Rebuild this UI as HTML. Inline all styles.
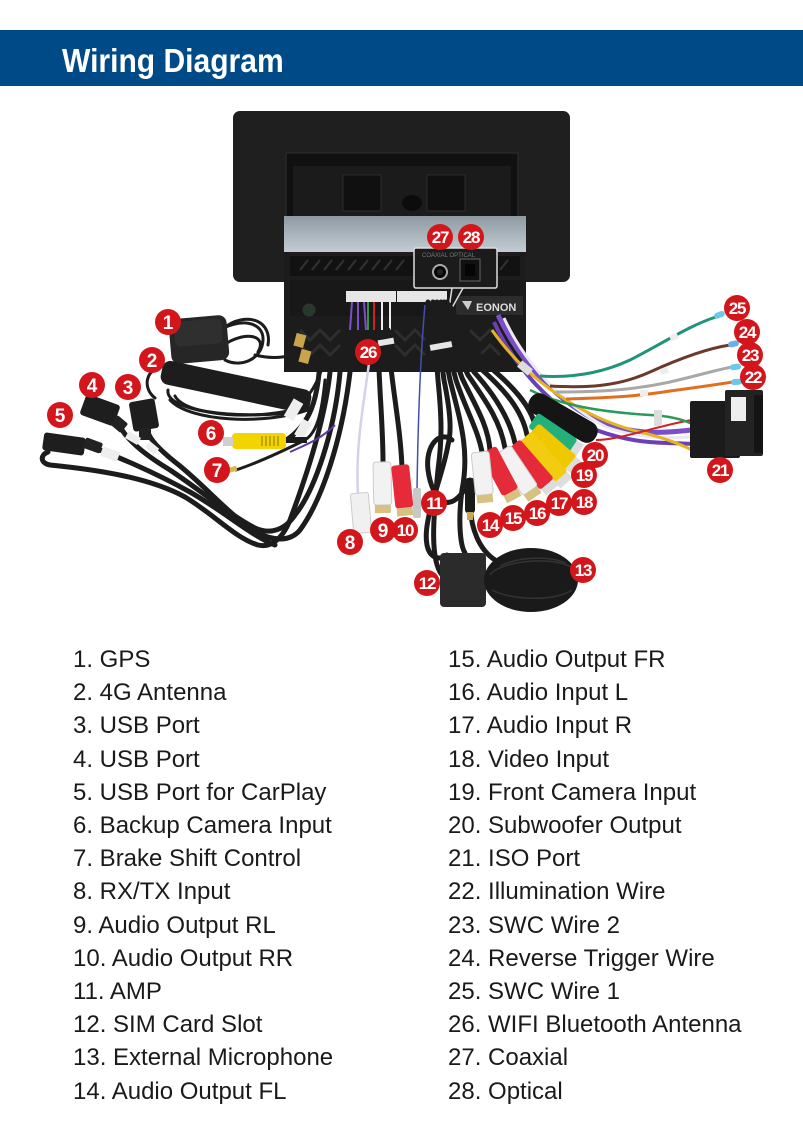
<!DOCTYPE html>
<html><head><meta charset="utf-8">
<style>
html,body{margin:0;padding:0;background:#fff;}
#page{position:relative;width:803px;height:1139px;overflow:hidden;background:#fff;font-family:"Liberation Sans",sans-serif;}
#hdr{position:absolute;left:0;top:30px;width:803px;height:56px;background:#004b87;}
#title{position:absolute;left:62px;top:41px;font-size:33px;font-weight:bold;color:#fff;transform:scaleX(0.91);transform-origin:0 0;line-height:40px;white-space:nowrap;}
svg{position:absolute;left:0;top:0;}
.col{position:absolute;top:643px;font-size:24px;line-height:33.2px;color:#1a1a1a;white-space:nowrap;}
.b circle{fill:#d3161c;}
.b text{fill:#fff;font-family:"Liberation Sans",sans-serif;font-weight:bold;font-size:19px;text-anchor:middle;}
.b text.d{font-size:17px;letter-spacing:-1.2px;}
.cb{fill:none;stroke:#1c1c1c;stroke-width:5;stroke-linecap:round;}
.ct{fill:none;stroke:#1c1c1c;stroke-width:3;stroke-linecap:round;}
</style></head>
<body><div id="page">
<div id="hdr"></div>
<div id="title">Wiring Diagram</div>

<svg width="803" height="640" viewBox="0 0 803 640">
<defs>
<linearGradient id="metal" x1="0" y1="0" x2="0" y2="1">
<stop offset="0" stop-color="#8e9aa3"/><stop offset="1" stop-color="#c4ced4"/>
</linearGradient>
</defs>

<!-- monitor -->
<rect x="233" y="111" width="337" height="171" rx="7" fill="#1f1f1f"/>
<rect x="286" y="153" width="232" height="64" fill="#111" stroke="#2f2f2f"/>
<rect x="293" y="166" width="218" height="50" fill="#1b1b1b"/>
<rect x="343" y="175" width="38" height="36" fill="#101010" stroke="#2c2c2c"/>
<rect x="427" y="175" width="38" height="36" fill="#101010" stroke="#2c2c2c"/>
<ellipse cx="412" cy="203" rx="10" ry="8" fill="#0c0c0c"/>

<!-- chassis -->
<rect x="284" y="216" width="242" height="37" fill="url(#metal)"/>
<rect x="284" y="252" width="242" height="120" fill="#1c1c1c"/>
<rect x="290" y="256" width="230" height="20" fill="#121212"/>
<path d="M300,270 l8,-10 M312,270 l8,-10 M324,270 l8,-10 M336,270 l8,-10 M348,270 l8,-10 M360,270 l8,-10 M372,270 l8,-10 M384,270 l8,-10 M396,270 l8,-10 M500,270 l8,-10" stroke="#333" stroke-width="2"/>
<rect x="290" y="280" width="230" height="36" fill="#181818"/>
<path d="M300,330 l10,10 l10,-10 l10,10 l10,-10 M300,345 l10,10 l10,-10 l10,10 l10,-10 M395,330 l10,10 l10,-10 l10,10 M395,345 l10,10 l10,-10 l10,10 M470,330 l10,10 l10,-10 l10,10 M470,345 l10,10 l10,-10 l10,10" stroke="#2e2e2e" stroke-width="3" fill="none"/>
<circle cx="309" cy="310" r="6" fill="#263a2c" stroke="#333"/>
<rect x="346" y="291" width="50" height="11" fill="#e6e6e6"/>
<rect x="397" y="291" width="50" height="11" fill="#e6e6e6"/>
<path d="M352,302 l-2,28 M358,302 l0,28 M364,302 l2,28" stroke="#7a4fc8" stroke-width="2"/>
<path d="M368,302 l0,28" stroke="#2a9a4a" stroke-width="2"/>
<path d="M374,302 l0,28" stroke="#d02020" stroke-width="2"/>
<path d="M382,302 l0,28 M390,302 l0,28" stroke="#eee" stroke-width="2"/>
<rect x="456" y="296" width="67" height="19" fill="#2c2c2c"/>
<text x="476" y="311" font-family="Liberation Sans" font-weight="bold" font-size="11" fill="#ddd">EONON</text>
<path d="M462,301 l10,0 l-4,9 z" fill="#ccc"/>

<!-- coax/optical inset -->
<path d="M452,288 L448,315 L463,288" fill="#1a1a1a" stroke="#ddd" stroke-width="1.5"/>
<rect x="414" y="248" width="83" height="40" rx="2" fill="#1b1b1b" stroke="#ddd" stroke-width="1.5"/>
<text x="422" y="257" font-family="Liberation Sans" font-size="6" fill="#777">COAXIAL  OPTICAL</text>
<circle cx="440" cy="272" r="7" fill="#000" stroke="#aaa" stroke-width="2"/>
<circle cx="440" cy="272" r="3" fill="#222"/>
<rect x="460" y="259" width="20" height="22" fill="#111" stroke="#666"/>
<rect x="465" y="264" width="10" height="12" fill="#050505"/>

<!-- left cables -->
<path class="cb" d="M330,372 C325,420 305,480 290,520 C282,540 270,548 258,545 C235,538 215,515 185,497 C150,478 100,470 50,465 C40,463 40,455 48,452"/>
<path class="cb" d="M340,372 C335,430 315,490 295,515 C285,530 270,535 255,528 C230,515 200,490 170,470 C150,458 132,445 122,430"/>
<path class="cb" d="M350,372 C342,440 322,500 300,530 C290,542 275,540 262,535 C235,522 205,485 175,462 C160,450 150,440 148,432"/>
<path class="cb" d="M90,446 C120,458 150,470 190,492 C225,512 250,535 275,545"/>
<path class="cb" d="M320,360 C318,400 310,425 285,441"/>
<path class="ct" d="M236,470 C260,462 285,450 305,440 C318,432 322,410 325,380"/>
<path d="M290,452 C305,445 320,440 335,425" stroke="#5a3a9a" stroke-width="2" fill="none"/>
<path class="ct" d="M300,405 C315,390 320,375 325,360"/>
<path class="ct" d="M215,333 C240,316 264,322 263,340 C262,360 240,368 225,360"/>
<path class="ct" d="M222,346 C245,330 268,335 258,352"/>
<path class="ct" d="M228,325 C250,312 272,322 268,345"/>
<path class="ct" d="M255,355 C275,360 292,357 302,350"/>
<path class="ct" d="M168,390 C165,410 230,420 300,412"/>
<path class="ct" d="M175,396 C185,416 260,422 306,406"/>
<path class="ct" d="M170,400 C190,422 265,425 308,410"/>
<path class="ct" d="M165,366 C145,368 142,388 155,398"/>

<!-- GPS & 4G -->
<rect x="170" y="317" width="58" height="45" rx="8" fill="#262626" transform="rotate(-5 199 340)"/>
<rect x="175" y="320" width="48" height="25" rx="6" fill="#2f2f2f" transform="rotate(-5 199 340)"/>
<g transform="rotate(12 236 387)"><rect x="160" y="375" width="152" height="24" rx="8" fill="#1d1d1d"/></g>
<rect x="295" y="334" width="10" height="13" fill="#c9a44a" transform="rotate(15 300 340)"/>
<rect x="300" y="350" width="10" height="13" fill="#c9a44a" transform="rotate(15 305 356)"/>
<rect x="284" y="404" width="20" height="11" fill="#eee" transform="rotate(-60 294 410)"/>
<rect x="294" y="424" width="18" height="10" fill="#eee" transform="rotate(-60 303 429)"/>

<!-- USB plugs -->
<rect x="43" y="435" width="42" height="18" rx="3" fill="#1e1e1e" transform="rotate(8 64 444)"/>
<rect x="84" y="440" width="18" height="11" rx="2" fill="#222" transform="rotate(20 93 445)"/>
<rect x="101" y="449" width="18" height="10" fill="#eee" transform="rotate(20 110 454)"/>
<rect x="82" y="399" width="36" height="22" rx="3" fill="#1e1e1e" transform="rotate(20 100 410)"/>
<rect x="112" y="418" width="14" height="12" rx="2" fill="#222" transform="rotate(40 119 424)"/>
<rect x="131" y="400" width="26" height="30" rx="3" fill="#1e1e1e" transform="rotate(-10 144 415)"/>
<rect x="139" y="428" width="12" height="12" rx="2" fill="#222"/>
<rect x="126" y="434" width="14" height="8" fill="#eee" transform="rotate(30 133 438)"/>
<rect x="146" y="444" width="12" height="8" fill="#eee" transform="rotate(40 152 448)"/>

<!-- yellow RCA 6 and wire 7 -->
<rect x="285" y="437" width="22" height="6" fill="#1c1c1c"/>
<rect x="232" y="433" width="54" height="16" rx="4" fill="#f2d400"/>
<path d="M262,436 v10 M266,436 v10 M270,436 v10 M274,436 v10 M278,436 v10" stroke="#b09400" stroke-width="1.5"/>
<rect x="223" y="437" width="10" height="9" fill="#cfcfcf"/>
<rect x="227" y="467" width="10" height="5" fill="#d8b850" transform="rotate(-15 232 470)"/>

<!-- center cables -->
<path class="cb" d="M378,330 C378,380 383,420 383,462"/>
<path class="cb" d="M388,330 C390,380 400,420 402,467"/>
<path d="M372,340 C365,400 355,440 358,495" stroke="#d8d0e8" stroke-width="2.5" fill="none"/>
<path d="M425,305 C420,360 418,420 417,490" stroke="#4050b0" stroke-width="1.5" fill="none"/>
<path class="cb" d="M428,302 C432,330 436,350 438,380 C442,420 442,440 438,470 C433,520 430,560 442,575"/>
<path class="cb" d="M433,302 C436,330 440,350 444,380 C450,410 452,430 448,445 C442,480 422,520 427,545 C430,560 442,560 447,555"/>
<path class="cb" d="M437,302 C440,330 444,350 450,380 C460,420 470,450 462,490 C458,520 460,545 465,553"/>
<path class="cb" d="M452,440 C440,430 425,445 428,470 C432,500 450,520 470,480"/>
<path class="cb" d="M441,302 C443,330 448,350 456,380 C466,410 478,430 482,452"/>
<path class="cb" d="M444,302 C447,330 452,350 462,378 C475,405 488,425 490,450"/>
<path class="cb" d="M447,302 C450,330 456,350 468,375 C485,400 500,420 505,448"/>
<path class="cb" d="M449,305 C454,330 460,348 474,372 C495,395 510,420 515,443"/>
<path class="cb" d="M451,308 C458,330 466,346 480,368 C505,390 522,410 527,435"/>
<path class="cb" d="M453,312 C462,332 472,346 486,364 C512,385 530,405 535,425"/>
<path class="cb" d="M470,500 C470,530 480,550 495,560"/>
<rect x="465" y="478" width="10" height="35" rx="3" fill="#1a1a1a"/>
<rect x="467" y="512" width="6" height="8" fill="#c8a850"/>
<rect x="378" y="339" width="16" height="6" fill="#e6e6e6" transform="rotate(-10 386 342)"/>
<rect x="430" y="343" width="22" height="6" fill="#e6e6e6" transform="rotate(-10 441 346)"/>

<!-- purple bundle -->
<path d="M498,315 C520,362 558,402 600,422 C640,437 670,432 692,430" stroke="#7a4fc8" stroke-width="5" fill="none"/>
<path d="M504,318 C526,366 566,406 606,427 C642,440 672,438 692,437" stroke="#ebeaf4" stroke-width="3" fill="none"/>
<path d="M494,322 C515,368 552,408 596,430 C640,446 668,442 692,444" stroke="#6a3fb8" stroke-width="4" fill="none"/>
<path d="M492,330 C530,385 590,420 640,432 C665,438 680,444 692,450" stroke="#e6b420" stroke-width="3" fill="none"/>
<path d="M596,440 C620,440 660,425 692,420" stroke="#d02020" stroke-width="2" fill="none"/>
<path d="M530,390 C560,405 600,412 650,415 C670,416 684,420 692,424" stroke="#2a9a5a" stroke-width="2.5" fill="none"/>
<rect x="518" y="364" width="14" height="8" fill="#ddd" transform="rotate(40 525 368)"/>
<rect x="654" y="410" width="8" height="16" fill="#ddd"/>
<!-- colored wires to 22-25 -->
<path d="M540,376 C570,378 600,374 630,360 C660,345 690,325 716,317" stroke="#21937a" stroke-width="3" fill="none"/>
<path d="M550,386 C585,388 617,387 650,372 C683,357 710,348 730,345" stroke="#6a3a2a" stroke-width="3" fill="none"/>
<path d="M556,392 C600,392 633,390 670,382 C700,375 720,369 732,367" stroke="#a8a8a8" stroke-width="3" fill="none"/>
<path d="M566,399 C600,398 633,397 670,391 C700,387 720,384 733,382" stroke="#e07020" stroke-width="3" fill="none"/>
<rect x="714" y="312" width="11" height="6" rx="3" fill="#6cc8e8" transform="rotate(-20 719 315)"/>
<rect x="728" y="341" width="11" height="6" rx="3" fill="#6cb0e8" transform="rotate(-12 733 344)"/>
<rect x="730" y="364" width="11" height="6" rx="3" fill="#6cc8e8" transform="rotate(-8 735 367)"/>
<rect x="731" y="379" width="11" height="6" rx="3" fill="#6cc8e8" transform="rotate(-5 736 382)"/>
<rect x="670" y="334" width="8" height="6" fill="#eee" transform="rotate(-25 674 337)"/>
<rect x="660" y="368" width="8" height="6" fill="#eee" transform="rotate(-15 664 371)"/>
<rect x="640" y="390" width="8" height="6" fill="#eee"/>

<!-- ISO connector -->
<rect x="690" y="401" width="50" height="57" rx="2" fill="#1b1b1b"/>
<rect x="725" y="390" width="38" height="66" rx="2" fill="#232323"/>
<rect x="754" y="395" width="9" height="58" fill="#141414"/>
<rect x="731" y="397" width="15" height="24" fill="#eee"/>
<!-- fuse -->
<g transform="rotate(30 563 418)"><rect x="525" y="407" width="76" height="22" rx="10" fill="#151515"/></g>

<!-- RCA plugs (back to front) -->
<g transform="translate(533,420) rotate(34)"><rect x="0" y="-9" width="48" height="18" rx="3" fill="#24b07a"/><rect x="48" y="-8" width="8" height="16" fill="#ddd"/></g>
<g transform="translate(533,430) rotate(41)"><rect x="0" y="-9" width="50" height="18" rx="3" fill="#f0c800"/><rect x="50" y="-8" width="8" height="16" fill="#ddd"/></g>
<g transform="translate(525,437) rotate(48)"><rect x="0" y="-9" width="54" height="18" rx="3" fill="#f2cc10"/><rect x="54" y="-8" width="8" height="16" fill="#ddd"/></g>
<g transform="translate(513,445) rotate(49)"><rect x="0" y="-9" width="52" height="18" rx="3" fill="#e52a3a"/><rect x="52" y="-8" width="8" height="16" fill="#ddd"/></g>
<g transform="translate(503,450) rotate(56)"><rect x="0" y="-9" width="49" height="18" rx="3" fill="#f2f2f2" stroke="#ccc"/><rect x="49" y="-8" width="8" height="16" fill="#d8c080"/></g>
<g transform="translate(488,450) rotate(62)"><rect x="0" y="-9" width="48" height="18" rx="3" fill="#e52a3a"/><rect x="48" y="-8" width="8" height="16" fill="#d8c080"/></g>
<g transform="translate(480,452) rotate(84)"><rect x="0" y="-9" width="43" height="18" rx="3" fill="#f2f2f2" stroke="#ccc"/><rect x="43" y="-8" width="8" height="16" fill="#d8c080"/></g>
<!-- RCA 9/10 -->
<g transform="translate(382,462) rotate(89)"><rect x="0" y="-9" width="43" height="18" rx="3" fill="#f2f2f2" stroke="#ccc"/><rect x="43" y="-8" width="8" height="16" fill="#d8c080"/></g>
<g transform="translate(400,465) rotate(84)"><rect x="0" y="-9" width="43" height="18" rx="3" fill="#e52a3a"/><rect x="43" y="-8" width="8" height="16" fill="#d8c080"/></g>
<rect x="413" y="488" width="8" height="30" rx="2" fill="#c8c8c8"/>
<!-- connector 8 -->
<rect x="352" y="493" width="18" height="40" rx="2" fill="#f0f0f0" stroke="#ccc" transform="rotate(-5 361 513)"/>

<!-- SIM box & mic -->
<rect x="440" y="553" width="46" height="54" rx="4" fill="#2b2b2b"/>
<ellipse cx="531" cy="580" rx="47" ry="32" fill="#1a1a1a"/>
<path d="M490,575 C500,560 560,555 575,570 M492,590 C510,600 555,602 572,590 M500,566 C520,556 550,556 566,563" stroke="#333" stroke-width="1.5" fill="none"/>

<!-- badges -->
<g class="b"><circle cx="168" cy="322" r="13"/><text x="168" y="329">1</text></g>
<g class="b"><circle cx="152" cy="360" r="13"/><text x="152" y="367">2</text></g>
<g class="b"><circle cx="128" cy="387" r="13"/><text x="128" y="394">3</text></g>
<g class="b"><circle cx="92" cy="385" r="13"/><text x="92" y="392">4</text></g>
<g class="b"><circle cx="60" cy="415" r="13"/><text x="60" y="422">5</text></g>
<g class="b"><circle cx="211" cy="433" r="13"/><text x="211" y="440">6</text></g>
<g class="b"><circle cx="217" cy="470" r="13"/><text x="217" y="477">7</text></g>
<g class="b"><circle cx="350" cy="542" r="13"/><text x="350" y="549">8</text></g>
<g class="b"><circle cx="383" cy="530" r="13"/><text x="383" y="537">9</text></g>
<g class="b"><circle cx="405" cy="530" r="13"/><text class="d" x="405" y="536">10</text></g>
<g class="b"><circle cx="434" cy="503" r="13"/><text class="d" x="434" y="509">11</text></g>
<g class="b"><circle cx="427" cy="583" r="13"/><text class="d" x="427" y="589">12</text></g>
<g class="b"><circle cx="583" cy="570" r="13"/><text class="d" x="583" y="576">13</text></g>
<g class="b"><circle cx="490" cy="525" r="13"/><text class="d" x="490" y="531">14</text></g>
<g class="b"><circle cx="513" cy="518" r="13"/><text class="d" x="513" y="524">15</text></g>
<g class="b"><circle cx="537" cy="513" r="13"/><text class="d" x="537" y="519">16</text></g>
<g class="b"><circle cx="559" cy="503" r="13"/><text class="d" x="559" y="509">17</text></g>
<g class="b"><circle cx="584" cy="502" r="13"/><text class="d" x="584" y="508">18</text></g>
<g class="b"><circle cx="584" cy="475" r="13"/><text class="d" x="584" y="481">19</text></g>
<g class="b"><circle cx="595" cy="455" r="13"/><text class="d" x="595" y="461">20</text></g>
<g class="b"><circle cx="720" cy="470" r="13"/><text class="d" x="720" y="476">21</text></g>
<g class="b"><circle cx="753" cy="377" r="13"/><text class="d" x="753" y="383">22</text></g>
<g class="b"><circle cx="750" cy="355" r="13"/><text class="d" x="750" y="361">23</text></g>
<g class="b"><circle cx="747" cy="332" r="13"/><text class="d" x="747" y="338">24</text></g>
<g class="b"><circle cx="737" cy="308" r="13"/><text class="d" x="737" y="314">25</text></g>
<g class="b"><circle cx="368" cy="352" r="13"/><text class="d" x="368" y="358">26</text></g>
<g class="b"><circle cx="440" cy="237" r="13"/><text class="d" x="440" y="243">27</text></g>
<g class="b"><circle cx="471" cy="237" r="13"/><text class="d" x="471" y="243">28</text></g>
</svg>

<div class="col" style="left:73px;">
1. GPS<br>
2. 4G Antenna<br>
3. USB Port<br>
4. USB Port<br>
5. USB Port for CarPlay<br>
6. Backup Camera Input<br>
7. Brake Shift Control<br>
8. RX/TX Input<br>
9. Audio Output RL<br>
10. Audio Output RR<br>
11. AMP<br>
12. SIM Card Slot<br>
13. External Microphone<br>
14. Audio Output FL
</div>
<div class="col" style="left:448px;">
15. Audio Output FR<br>
16. Audio Input L<br>
17. Audio Input R<br>
18. Video Input<br>
19. Front Camera Input<br>
20. Subwoofer Output<br>
21. ISO Port<br>
22. Illumination Wire<br>
23. SWC Wire 2<br>
24. Reverse Trigger Wire<br>
25. SWC Wire 1<br>
26. WIFI Bluetooth Antenna<br>
27. Coaxial<br>
28. Optical
</div>
</div></body></html>
